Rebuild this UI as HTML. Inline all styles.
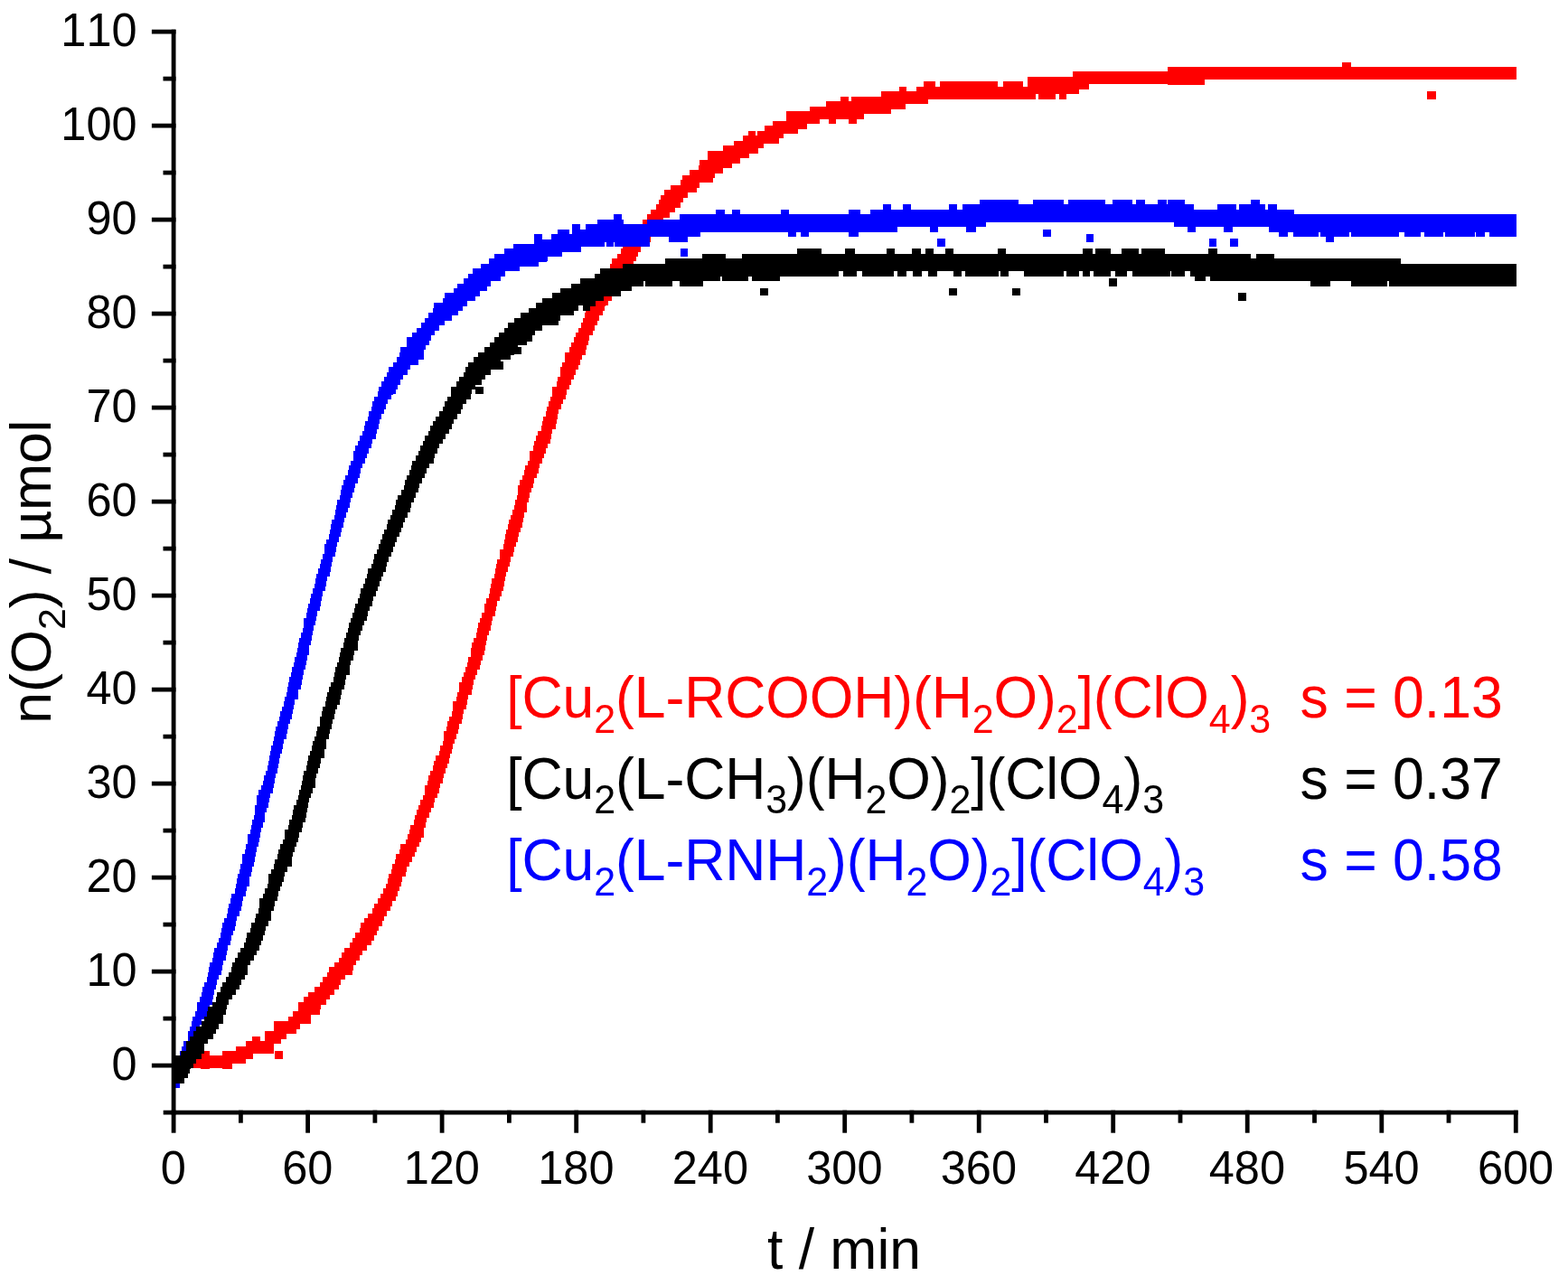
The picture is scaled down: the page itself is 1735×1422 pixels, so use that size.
<!DOCTYPE html>
<html lang="en">
<head>
<meta charset="utf-8">
<title>n(O2) / µmol vs t / min</title>
<style>
html,body{margin:0;padding:0;background:#fff;}
body{width:1735px;height:1422px;overflow:hidden;}
svg{display:block;}
svg text{font-family:"Liberation Sans",sans-serif;font-kerning:none;font-variant-ligatures:none;}
</style>
</head>
<body>
<svg width="1735" height="1422" viewBox="0 0 1735 1422">
<rect width="1735" height="1422" fill="#fff"/>
<defs><clipPath id="plot"><rect x="190" y="0" width="1500" height="1232"/></clipPath></defs>
<g>
<g shape-rendering="crispEdges" clip-path="url(#plot)">
<path fill="#ff0000" d="M333.8 1108.5h8.6v19.5h-8.6zM335.1 1108.5h8.6v24.9h-8.6zM336.3 1103.1h8.6v19.5h-8.6zM337.6 1103.1h8.6v19.5h-8.6zM338.8 1103.1h8.6v19.5h-8.6zM340 1103.1h8.6v19.5h-8.6zM341.3 1097.6h8.6v19.5h-8.6zM342.5 1103.1h8.6v19.5h-8.6zM343.7 1097.6h8.6v19.5h-8.6zM345 1097.6h8.6v24.9h-8.6zM346.2 1097.6h8.6v19.5h-8.6zM347.5 1092.2h8.6v19.5h-8.6zM348.7 1092.2h8.6v19.5h-8.6zM349.9 1092.2h8.6v19.5h-8.6zM351.2 1092.2h8.6v19.5h-8.6zM352.4 1092.2h8.6v19.5h-8.6zM353.6 1086.7h8.6v19.5h-8.6zM354.9 1086.7h8.6v19.5h-8.6zM356.1 1086.7h8.6v19.5h-8.6zM357.4 1081.3h8.6v19.5h-8.6zM358.6 1081.3h8.6v19.5h-8.6zM359.8 1081.3h8.6v19.5h-8.6zM361.1 1081.3h8.6v19.5h-8.6zM362.3 1075.8h8.6v19.5h-8.6zM363.5 1070.4h8.6v24.9h-8.6zM364.8 1075.8h8.6v19.5h-8.6zM366 1075.8h8.6v19.5h-8.6zM367.3 1070.4h8.6v19.5h-8.6zM368.5 1070.4h8.6v19.5h-8.6zM369.7 1064.9h8.6v19.5h-8.6zM371 1064.9h8.6v19.5h-8.6zM372.2 1064.9h8.6v19.5h-8.6zM373.4 1064.9h8.6v19.5h-8.6zM374.7 1059.5h8.6v19.5h-8.6zM375.9 1059.5h8.6v19.5h-8.6zM377.2 1059.5h8.6v19.5h-8.6zM378.4 1054.1h8.6v19.5h-8.6zM379.6 1054.1h8.6v24.9h-8.6zM380.9 1048.6h8.6v30.4h-8.6zM382.1 1048.6h8.6v24.9h-8.6zM383.3 1048.6h8.6v19.5h-8.6zM384.6 1048.6h8.6v19.5h-8.6zM385.8 1048.6h8.6v19.5h-8.6zM387.1 1043.2h8.6v19.5h-8.6zM388.3 1043.2h8.6v19.5h-8.6zM389.5 1037.7h8.6v24.9h-8.6zM390.8 1037.7h8.6v19.5h-8.6zM392 1037.7h8.6v19.5h-8.6zM393.2 1032.3h8.6v19.5h-8.6zM394.5 1032.3h8.6v19.5h-8.6zM395.7 1032.3h8.6v19.5h-8.6zM397 1032.3h8.6v19.5h-8.6zM398.2 1026.8h8.6v19.5h-8.6zM399.4 1021.4h8.6v24.9h-8.6zM400.7 1021.4h8.6v24.9h-8.6zM401.9 1021.4h8.6v24.9h-8.6zM403.2 1015.9h8.6v24.9h-8.6zM404.4 1015.9h8.6v24.9h-8.6zM405.6 1015.9h8.6v24.9h-8.6zM406.9 1010.5h8.6v24.9h-8.6zM408.1 1015.9h8.6v19.5h-8.6zM409.3 1010.5h8.6v19.5h-8.6zM410.6 1010.5h8.6v19.5h-8.6zM411.8 1005.1h8.6v19.5h-8.6zM413.1 1005.1h8.6v19.5h-8.6zM414.3 999.6h8.6v24.9h-8.6zM415.5 999.6h8.6v19.5h-8.6zM416.8 999.6h8.6v19.5h-8.6zM418 994.2h8.6v19.5h-8.6zM419.2 994.2h8.6v19.5h-8.6zM420.5 988.7h8.6v19.5h-8.6zM421.7 988.7h8.6v19.5h-8.6zM423 988.7h8.6v19.5h-8.6zM424.2 983.3h8.6v19.5h-8.6zM425.4 983.3h8.6v19.5h-8.6zM426.7 977.8h8.6v19.5h-8.6zM427.9 977.8h8.6v19.5h-8.6zM429.1 972.4h8.6v24.9h-8.6zM430.4 966.9h8.6v24.9h-8.6zM431.6 966.9h8.6v24.9h-8.6zM432.9 961.5h8.6v24.9h-8.6zM434.1 956h8.6v24.9h-8.6zM435.3 956h8.6v24.9h-8.6zM436.6 950.6h8.6v24.9h-8.6zM437.8 945.2h8.6v24.9h-8.6zM439 945.2h8.6v24.9h-8.6zM440.3 945.2h8.6v24.9h-8.6zM441.5 939.7h8.6v24.9h-8.6zM442.8 934.3h8.6v24.9h-8.6zM444 934.3h8.6v24.9h-8.6zM445.2 934.3h8.6v19.5h-8.6zM446.5 934.3h8.6v19.5h-8.6zM447.7 934.3h8.6v19.5h-8.6zM448.9 928.8h8.6v19.5h-8.6zM450.2 928.8h8.6v19.5h-8.6zM451.4 923.4h8.6v19.5h-8.6zM452.7 917.9h8.6v24.9h-8.6zM453.9 912.5h8.6v24.9h-8.6zM455.1 917.9h8.6v19.5h-8.6zM456.4 912.5h8.6v19.5h-8.6zM457.6 907h8.6v24.9h-8.6zM458.8 901.6h8.6v24.9h-8.6zM460.1 901.6h8.6v24.9h-8.6zM461.3 896.2h8.6v19.5h-8.6zM462.6 890.7h8.6v24.9h-8.6zM463.8 890.7h8.6v19.5h-8.6zM465 885.3h8.6v19.5h-8.6zM466.3 885.3h8.6v19.5h-8.6zM467.5 879.8h8.6v19.5h-8.6zM468.7 879.8h8.6v19.5h-8.6zM470 868.9h8.6v24.9h-8.6zM471.2 868.9h8.6v24.9h-8.6zM472.5 863.5h8.6v24.9h-8.6zM473.7 858h8.6v24.9h-8.6zM474.9 858h8.6v24.9h-8.6zM476.2 852.6h8.6v24.9h-8.6zM477.4 852.6h8.6v24.9h-8.6zM478.6 847.1h8.6v24.9h-8.6zM479.9 841.7h8.6v24.9h-8.6zM481.1 841.7h8.6v24.9h-8.6zM482.4 836.3h8.6v24.9h-8.6zM483.6 836.3h8.6v19.5h-8.6zM484.8 836.3h8.6v19.5h-8.6zM486.1 830.8h8.6v19.5h-8.6zM487.3 825.4h8.6v19.5h-8.6zM488.5 825.4h8.6v19.5h-8.6zM489.8 819.9h8.6v19.5h-8.6zM491 809h8.6v24.9h-8.6zM492.3 809h8.6v19.5h-8.6zM493.5 803.6h8.6v19.5h-8.6zM494.7 798.1h8.6v24.9h-8.6zM496 798.1h8.6v19.5h-8.6zM497.2 792.7h8.6v19.5h-8.6zM498.5 792.7h8.6v19.5h-8.6zM499.7 787.2h8.6v19.5h-8.6zM500.9 776.4h8.6v24.9h-8.6zM502.2 781.8h8.6v19.5h-8.6zM503.4 776.4h8.6v19.5h-8.6zM504.6 770.9h8.6v19.5h-8.6zM505.9 765.5h8.6v19.5h-8.6zM507.1 765.5h8.6v19.5h-8.6zM508.4 754.6h8.6v24.9h-8.6zM509.6 754.6h8.6v19.5h-8.6zM510.8 749.1h8.6v19.5h-8.6zM512.1 749.1h8.6v19.5h-8.6zM513.3 743.7h8.6v24.9h-8.6zM514.5 738.2h8.6v24.9h-8.6zM515.8 738.2h8.6v19.5h-8.6zM517 732.8h8.6v19.5h-8.6zM518.3 727.4h8.6v19.5h-8.6zM519.5 727.4h8.6v19.5h-8.6zM520.7 716.5h8.6v24.9h-8.6zM522 711h8.6v30.4h-8.6zM523.2 711h8.6v24.9h-8.6zM524.4 705.6h8.6v24.9h-8.6zM525.7 705.6h8.6v24.9h-8.6zM526.9 700.1h8.6v24.9h-8.6zM528.2 694.7h8.6v24.9h-8.6zM529.4 689.2h8.6v24.9h-8.6zM530.6 683.8h8.6v24.9h-8.6zM531.9 683.8h8.6v19.5h-8.6zM533.1 678.4h8.6v19.5h-8.6zM534.3 678.4h8.6v19.5h-8.6zM535.6 667.5h8.6v24.9h-8.6zM536.8 667.5h8.6v19.5h-8.6zM538.1 662h8.6v19.5h-8.6zM539.3 662h8.6v19.5h-8.6zM540.5 656.6h8.6v19.5h-8.6zM541.8 651.1h8.6v19.5h-8.6zM543 645.7h8.6v19.5h-8.6zM544.2 640.2h8.6v24.9h-8.6zM545.5 640.2h8.6v19.5h-8.6zM546.7 634.8h8.6v24.9h-8.6zM548 629.3h8.6v24.9h-8.6zM549.2 623.9h8.6v24.9h-8.6zM550.4 618.5h8.6v24.9h-8.6zM551.7 618.5h8.6v19.5h-8.6zM552.9 607.6h8.6v24.9h-8.6zM554.1 607.6h8.6v19.5h-8.6zM555.4 607.6h8.6v19.5h-8.6zM556.6 602.1h8.6v19.5h-8.6zM557.9 596.7h8.6v19.5h-8.6zM559.1 591.2h8.6v24.9h-8.6zM560.3 585.8h8.6v24.9h-8.6zM561.6 580.3h8.6v24.9h-8.6zM562.8 574.9h8.6v30.4h-8.6zM564 574.9h8.6v24.9h-8.6zM565.3 569.5h8.6v24.9h-8.6zM566.5 564h8.6v24.9h-8.6zM567.8 564h8.6v24.9h-8.6zM569 558.6h8.6v24.9h-8.6zM570.2 553.1h8.6v24.9h-8.6zM571.5 547.7h8.6v24.9h-8.6zM572.7 536.8h8.6v30.4h-8.6zM573.9 542.2h8.6v24.9h-8.6zM575.2 531.3h8.6v24.9h-8.6zM576.4 531.3h8.6v24.9h-8.6zM577.7 525.9h8.6v24.9h-8.6zM578.9 525.9h8.6v19.5h-8.6zM580.1 520.4h8.6v19.5h-8.6zM581.4 515h8.6v24.9h-8.6zM582.6 515h8.6v19.5h-8.6zM583.8 509.6h8.6v19.5h-8.6zM585.1 509.6h8.6v19.5h-8.6zM586.3 498.7h8.6v24.9h-8.6zM587.6 498.7h8.6v24.9h-8.6zM588.8 498.7h8.6v19.5h-8.6zM590 493.2h8.6v19.5h-8.6zM591.3 487.8h8.6v24.9h-8.6zM592.5 482.3h8.6v24.9h-8.6zM593.7 482.3h8.6v24.9h-8.6zM595 476.9h8.6v24.9h-8.6zM596.2 476.9h8.6v19.5h-8.6zM597.5 476.9h8.6v19.5h-8.6zM598.7 471.4h8.6v19.5h-8.6zM599.9 466h8.6v24.9h-8.6zM601.2 460.6h8.6v24.9h-8.6zM602.4 460.6h8.6v19.5h-8.6zM603.7 455.1h8.6v19.5h-8.6zM604.9 449.7h8.6v24.9h-8.6zM606.1 449.7h8.6v24.9h-8.6zM607.4 444.2h8.6v24.9h-8.6zM608.6 438.8h8.6v24.9h-8.6zM609.8 438.8h8.6v19.5h-8.6zM611.1 427.9h8.6v24.9h-8.6zM612.3 433.3h8.6v19.5h-8.6zM613.6 427.9h8.6v19.5h-8.6zM614.8 427.9h8.6v19.5h-8.6zM616 422.4h8.6v19.5h-8.6zM617.3 417h8.6v24.9h-8.6zM618.5 417h8.6v19.5h-8.6zM619.7 406.1h8.6v24.9h-8.6zM621 406.1h8.6v24.9h-8.6zM622.2 400.7h8.6v24.9h-8.6zM623.5 400.7h8.6v24.9h-8.6zM624.7 389.8h8.6v30.4h-8.6zM625.9 395.2h8.6v24.9h-8.6zM627.2 389.8h8.6v24.9h-8.6zM628.4 389.8h8.6v24.9h-8.6zM629.6 384.3h8.6v24.9h-8.6zM630.9 384.3h8.6v24.9h-8.6zM632.1 378.9h8.6v24.9h-8.6zM633.4 378.9h8.6v24.9h-8.6zM634.6 373.4h8.6v24.9h-8.6zM635.8 373.4h8.6v24.9h-8.6zM637.1 368h8.6v24.9h-8.6zM638.3 368h8.6v24.9h-8.6zM639.5 362.5h8.6v30.4h-8.6zM640.8 362.5h8.6v24.9h-8.6zM642 362.5h8.6v19.5h-8.6zM643.3 357.1h8.6v19.5h-8.6zM644.5 351.7h8.6v19.5h-8.6zM645.7 351.7h8.6v19.5h-8.6zM647 346.2h8.6v24.9h-8.6zM648.2 340.8h8.6v24.9h-8.6zM649.4 340.8h8.6v24.9h-8.6zM650.7 335.3h8.6v24.9h-8.6zM651.9 340.8h8.6v19.5h-8.6zM653.2 335.3h8.6v19.5h-8.6zM654.4 329.9h8.6v24.9h-8.6zM655.6 324.4h8.6v24.9h-8.6zM656.9 324.4h8.6v24.9h-8.6zM658.1 324.4h8.6v24.9h-8.6zM659.3 319h8.6v24.9h-8.6zM660.6 319h8.6v24.9h-8.6zM661.8 308.1h8.6v30.4h-8.6zM663.1 313.5h8.6v24.9h-8.6zM664.3 313.5h8.6v24.9h-8.6zM665.5 308.1h8.6v24.9h-8.6zM666.8 308.1h8.6v24.9h-8.6zM668 308.1h8.6v24.9h-8.6zM669.2 302.6h8.6v24.9h-8.6zM670.5 302.6h8.6v24.9h-8.6zM671.7 297.2h8.6v24.9h-8.6zM673 297.2h8.6v24.9h-8.6zM674.2 297.2h8.6v24.9h-8.6zM675.4 291.8h8.6v24.9h-8.6zM676.7 286.3h8.6v30.4h-8.6zM677.9 291.8h8.6v24.9h-8.6zM679.1 291.8h8.6v19.5h-8.6zM680.4 286.3h8.6v24.9h-8.6zM681.6 286.3h8.6v19.5h-8.6zM682.9 280.9h8.6v24.9h-8.6zM684.1 280.9h8.6v24.9h-8.6zM685.3 280.9h8.6v24.9h-8.6zM686.6 275.4h8.6v24.9h-8.6zM687.8 275.4h8.6v19.5h-8.6zM689 270h8.6v24.9h-8.6zM690.3 270h8.6v24.9h-8.6zM691.5 264.5h8.6v30.4h-8.6zM692.8 264.5h8.6v30.4h-8.6zM694 264.5h8.6v24.9h-8.6zM695.2 264.5h8.6v24.9h-8.6zM696.5 259.1h8.6v24.9h-8.6zM697.7 259.1h8.6v24.9h-8.6zM698.9 259.1h8.6v19.5h-8.6zM700.2 259.1h8.6v19.5h-8.6zM701.4 253.6h8.6v19.5h-8.6zM702.7 253.6h8.6v19.5h-8.6zM703.9 253.6h8.6v19.5h-8.6zM705.1 253.6h8.6v19.5h-8.6zM706.4 248.2h8.6v19.5h-8.6zM707.6 248.2h8.6v19.5h-8.6zM708.9 248.2h8.6v19.5h-8.6zM710.1 248.2h8.6v19.5h-8.6zM711.3 242.8h8.6v24.9h-8.6zM712.6 242.8h8.6v19.5h-8.6zM713.8 242.8h8.6v19.5h-8.6zM715 242.8h8.6v19.5h-8.6zM716.3 237.3h8.6v19.5h-8.6zM717.5 237.3h8.6v19.5h-8.6zM718.8 237.3h8.6v19.5h-8.6zM720 231.9h8.6v19.5h-8.6zM721.2 231.9h8.6v19.5h-8.6zM722.5 231.9h8.6v19.5h-8.6zM723.7 231.9h8.6v14h-8.6zM724.9 231.9h8.6v14h-8.6zM726.2 226.4h8.6v14h-8.6zM727.4 226.4h8.6v14h-8.6zM728.7 221h8.6v19.5h-8.6zM729.9 221h8.6v19.5h-8.6zM731.1 215.5h8.6v24.9h-8.6zM732.4 221h8.6v19.5h-8.6zM733.6 215.5h8.6v19.5h-8.6zM734.8 210.1h8.6v24.9h-8.6zM736.1 215.5h8.6v19.5h-8.6zM737.3 215.5h8.6v19.5h-8.6zM738.6 215.5h8.6v19.5h-8.6zM739.8 210.1h8.6v19.5h-8.6zM741 210.1h8.6v19.5h-8.6zM742.3 204.6h8.6v24.9h-8.6zM743.5 210.1h8.6v19.5h-8.6zM744.7 210.1h8.6v19.5h-8.6zM746 204.6h8.6v19.5h-8.6zM747.2 204.6h8.6v19.5h-8.6zM748.5 204.6h8.6v14h-8.6zM749.7 204.6h8.6v14h-8.6zM750.9 204.6h8.6v14h-8.6zM752.2 204.6h8.6v14h-8.6zM753.4 199.2h8.6v14h-8.6zM754.6 193.7h8.6v19.5h-8.6zM755.9 199.2h8.6v14h-8.6zM757.1 199.2h8.6v14h-8.6zM758.4 193.7h8.6v19.5h-8.6zM759.6 193.7h8.6v19.5h-8.6zM760.8 193.7h8.6v19.5h-8.6zM762.1 193.7h8.6v19.5h-8.6zM763.3 188.3h8.6v19.5h-8.6zM764.5 188.3h8.6v14h-8.6zM765.8 193.7h8.6v14h-8.6zM767 188.3h8.6v14h-8.6zM768.3 188.3h8.6v14h-8.6zM769.5 188.3h8.6v14h-8.6zM770.7 188.3h8.6v14h-8.6zM772 188.3h8.6v14h-8.6zM773.2 182.9h8.6v14h-8.6zM774.4 177.4h8.6v19.5h-8.6zM775.7 182.9h8.6v14h-8.6zM776.9 177.4h8.6v19.5h-8.6zM778.2 177.4h8.6v24.9h-8.6zM779.4 177.4h8.6v19.5h-8.6zM780.6 177.4h8.6v24.9h-8.6zM781.9 177.4h8.6v19.5h-8.6zM783.1 166.5h8.6v24.9h-8.6zM784.3 172h8.6v19.5h-8.6zM785.6 172h8.6v19.5h-8.6zM786.8 172h8.6v19.5h-8.6zM788.1 166.5h8.6v24.9h-8.6zM789.3 172h8.6v19.5h-8.6zM790.5 166.5h8.6v19.5h-8.6zM791.8 172h8.6v19.5h-8.6zM793 166.5h8.6v19.5h-8.6zM794.2 166.5h8.6v19.5h-8.6zM795.5 166.5h8.6v14h-8.6zM796.7 166.5h8.6v19.5h-8.6zM798 166.5h8.6v19.5h-8.6zM799.2 166.5h8.6v19.5h-8.6zM800.4 161.1h8.6v19.5h-8.6zM801.7 166.5h8.6v19.5h-8.6zM802.9 166.5h8.6v14h-8.6zM804.1 161.1h8.6v14h-8.6zM805.4 166.5h8.6v14h-8.6zM806.6 161.1h8.6v14h-8.6zM807.9 161.1h8.6v14h-8.6zM809.1 161.1h8.6v19.5h-8.6zM810.3 161.1h8.6v19.5h-8.6zM811.6 155.6h8.6v19.5h-8.6zM812.8 155.6h8.6v19.5h-8.6zM814.1 155.6h8.6v19.5h-8.6zM815.3 155.6h8.6v19.5h-8.6zM816.5 155.6h8.6v19.5h-8.6zM817.8 155.6h8.6v19.5h-8.6zM819 155.6h8.6v19.5h-8.6zM820.2 155.6h8.6v19.5h-8.6zM821.5 150.2h8.6v19.5h-8.6zM822.7 155.6h8.6v14h-8.6zM824 155.6h8.6v14h-8.6zM825.2 155.6h8.6v14h-8.6zM826.4 150.2h8.6v14h-8.6zM827.7 144.7h8.6v24.9h-8.6zM828.9 150.2h8.6v19.5h-8.6zM830.1 150.2h8.6v19.5h-8.6zM831.4 150.2h8.6v14h-8.6zM832.6 150.2h8.6v14h-8.6zM833.9 150.2h8.6v14h-8.6zM835.1 150.2h8.6v14h-8.6zM836.3 150.2h8.6v14h-8.6zM837.6 144.7h8.6v14h-8.6zM838.8 144.7h8.6v14h-8.6zM840 144.7h8.6v14h-8.6zM841.3 144.7h8.6v14h-8.6zM842.5 144.7h8.6v14h-8.6zM843.8 144.7h8.6v14h-8.6zM845 144.7h8.6v14h-8.6zM846.2 139.3h8.6v14h-8.6zM847.5 144.7h8.6v14h-8.6zM848.7 139.3h8.6v14h-8.6zM849.9 139.3h8.6v14h-8.6zM851.2 139.3h8.6v14h-8.6zM852.4 139.3h8.6v14h-8.6zM853.7 139.3h8.6v19.5h-8.6zM854.9 133.9h8.6v19.5h-8.6zM856.1 139.3h8.6v14h-8.6zM857.4 133.9h8.6v14h-8.6zM858.6 139.3h8.6v14h-8.6zM859.8 133.9h8.6v14h-8.6zM861.1 133.9h8.6v14h-8.6zM862.3 133.9h8.6v14h-8.6zM863.6 133.9h8.6v14h-8.6zM864.8 133.9h8.6v14h-8.6zM866 133.9h8.6v14h-8.6zM867.3 133.9h8.6v14h-8.6zM868.5 133.9h8.6v14h-8.6zM869.7 123h8.6v19.5h-8.6zM871 128.4h8.6v14h-8.6zM872.2 128.4h8.6v14h-8.6zM873.5 128.4h8.6v14h-8.6zM874.7 128.4h8.6v19.5h-8.6zM875.9 128.4h8.6v14h-8.6zM877.2 123h8.6v19.5h-8.6zM878.4 128.4h8.6v14h-8.6zM879.6 123h8.6v19.5h-8.6zM880.9 123h8.6v19.5h-8.6zM882.1 123h8.6v19.5h-8.6zM883.4 123h8.6v19.5h-8.6zM884.6 123h8.6v19.5h-8.6zM885.8 123h8.6v14h-8.6zM887.1 123h8.6v14h-8.6zM888.3 123h8.6v14h-8.6zM889.5 123h8.6v14h-8.6zM890.8 123h8.6v14h-8.6zM892 123h8.6v14h-8.6zM893.3 123h8.6v14h-8.6zM894.5 123h8.6v14h-8.6zM895.7 117.5h8.6v14h-8.6zM897 117.5h8.6v14h-8.6zM898.2 123h8.6v14h-8.6zM899.4 117.5h8.6v14h-8.6zM900.7 117.5h8.6v14h-8.6zM901.9 117.5h8.6v14h-8.6zM903.2 117.5h8.6v14h-8.6zM904.4 117.5h8.6v14h-8.6zM905.6 117.5h8.6v14h-8.6zM906.9 117.5h8.6v14h-8.6zM908.1 117.5h8.6v14h-8.6zM909.3 117.5h8.6v14h-8.6zM910.6 117.5h8.6v14h-8.6zM911.8 117.5h8.6v14h-8.6zM913.1 117.5h8.6v14h-8.6zM914.3 112.1h8.6v19.5h-8.6zM915.5 112.1h8.6v19.5h-8.6zM916.8 117.5h8.6v19.5h-8.6zM918 112.1h8.6v19.5h-8.6zM919.3 112.1h8.6v19.5h-8.6zM920.5 112.1h8.6v19.5h-8.6zM921.7 112.1h8.6v19.5h-8.6zM923 112.1h8.6v19.5h-8.6zM924.2 112.1h8.6v19.5h-8.6zM925.4 112.1h8.6v19.5h-8.6zM926.7 112.1h8.6v19.5h-8.6zM927.9 112.1h8.6v19.5h-8.6zM929.2 112.1h8.6v19.5h-8.6zM930.4 106.6h8.6v24.9h-8.6zM931.6 112.1h8.6v19.5h-8.6zM932.9 112.1h8.6v19.5h-8.6zM934.1 112.1h8.6v14h-8.6zM935.3 112.1h8.6v19.5h-8.6zM936.6 112.1h8.6v19.5h-8.6zM937.8 112.1h8.6v19.5h-8.6zM939.1 112.1h8.6v24.9h-8.6zM940.3 112.1h8.6v19.5h-8.6zM941.5 106.6h8.6v19.5h-8.6zM942.8 112.1h8.6v19.5h-8.6zM944 112.1h8.6v19.5h-8.6zM945.2 112.1h8.6v19.5h-8.6zM946.5 112.1h8.6v19.5h-8.6zM947.7 106.6h8.6v24.9h-8.6zM949 106.6h8.6v19.5h-8.6zM950.2 106.6h8.6v19.5h-8.6zM951.4 106.6h8.6v19.5h-8.6zM952.7 106.6h8.6v19.5h-8.6zM953.9 106.6h8.6v19.5h-8.6zM955.1 106.6h8.6v19.5h-8.6zM956.4 106.6h8.6v19.5h-8.6zM957.6 106.6h8.6v19.5h-8.6zM958.9 106.6h8.6v19.5h-8.6zM960.1 106.6h8.6v19.5h-8.6zM961.3 106.6h8.6v19.5h-8.6zM962.6 106.6h8.6v19.5h-8.6zM963.8 106.6h8.6v19.5h-8.6zM965 106.6h8.6v19.5h-8.6zM966.3 106.6h8.6v19.5h-8.6zM967.5 106.6h8.6v19.5h-8.6zM968.8 106.6h8.6v19.5h-8.6zM970 106.6h8.6v14h-8.6zM971.2 106.6h8.6v14h-8.6zM972.5 106.6h8.6v14h-8.6zM973.7 106.6h8.6v19.5h-8.6zM974.9 101.2h8.6v19.5h-8.6zM976.2 101.2h8.6v19.5h-8.6zM977.4 106.6h8.6v19.5h-8.6zM978.7 101.2h8.6v19.5h-8.6zM979.9 101.2h8.6v19.5h-8.6zM981.1 101.2h8.6v19.5h-8.6zM982.4 101.2h8.6v19.5h-8.6zM983.6 106.6h8.6v14h-8.6zM984.8 106.6h8.6v14h-8.6zM986.1 101.2h8.6v19.5h-8.6zM987.3 101.2h8.6v19.5h-8.6zM988.6 101.2h8.6v19.5h-8.6zM989.8 101.2h8.6v19.5h-8.6zM991 101.2h8.6v19.5h-8.6zM992.3 101.2h8.6v19.5h-8.6zM993.5 101.2h8.6v19.5h-8.6zM994.7 95.7h8.6v19.5h-8.6zM207.7 1168.4h15.1v14h-15.1zM222.4 1163h9.5v19.5h-9.5zM231.6 1168.4h14.6v14h-14.6zM245.9 1163h11.4v19.5h-11.4zM257 1163h4v14h-4zM260.7 1157.5h10.9v19.5h-10.9zM271.3 1157.5h0.8v14h-0.8zM271.8 1152.1h7.7v19.5h-7.7zM279.1 1146.6h9.1v19.5h-9.1zM287.9 1152.1h5.8v14h-5.8zM293.4 1141.2h9.5v24.9h-9.5zM302.7 1130.3h8.6v24.9h-8.6zM311 1130.3h6.3v19.5h-6.3zM316.9 1130.3h2.1v14h-2.1zM318.8 1124.8h5.8v19.5h-5.8zM324.3 1119.4h4v24.9h-4zM328 1119.4h2.1v19.5h-2.1zM329.9 1108.5h1.7v30.4h-1.7zM331.2 1108.5h4v24.9h-4zM334.9 1108.5h5.4v19.5h-5.4zM1000 101.2h14.1v14h-14.1zM1013.8 95.7h8.4v19.5h-8.4zM1021.9 90.3h4.9v24.9h-4.9zM1026.5 90.3h8.4v19.5h-8.4zM1034.6 95.7h6.1v14h-6.1zM1040.4 90.3h63.7v19.5h-63.7zM1103.8 95.7h6.1v14h-6.1zM1109.6 90.3h22.2v19.5h-22.2zM1131.5 95.7h6.1v14h-6.1zM1137.3 84.8h8.4v24.9h-8.4zM1145.3 84.8h3.8v19.5h-3.8zM1148.8 84.8h18.8v24.9h-18.8zM1167.2 84.8h4.9v19.5h-4.9zM1171.9 84.8h8.4v24.9h-8.4zM1179.9 84.8h7.2v19.5h-7.2zM1186.9 79.4h7.2v24.9h-7.2zM1193.8 79.4h10.7v19.5h-10.7zM1204.2 79.4h88v14h-88zM1291.8 74h40.7v19.5h-40.7zM1332.2 74h68.1v14h-68.1zM1400 74h85.2v14h-85.2zM1484.9 68.5h10v19.5h-10zM1494.6 74h183.7v14h-183.7zM1578.7 101.1h8.6v8.6h-8.6zM1580.5 101.1h8.6v8.6h-8.6zM304.1 1163.3h8.6v8.6h-8.6z"/>
<path fill="#0000ff" d="M218.7 1108.5h8.6v19.5h-8.6zM220 1108.5h8.6v19.5h-8.6zM221.2 1103.1h8.6v19.5h-8.6zM222.5 1097.6h8.6v19.5h-8.6zM223.7 1092.2h8.6v24.9h-8.6zM224.9 1092.2h8.6v19.5h-8.6zM226.2 1086.7h8.6v24.9h-8.6zM227.4 1086.7h8.6v19.5h-8.6zM228.6 1081.3h8.6v19.5h-8.6zM229.9 1075.8h8.6v19.5h-8.6zM231.1 1070.4h8.6v19.5h-8.6zM232.4 1064.9h8.6v19.5h-8.6zM233.6 1064.9h8.6v19.5h-8.6zM234.8 1059.5h8.6v19.5h-8.6zM236.1 1054.1h8.6v24.9h-8.6zM237.3 1048.6h8.6v24.9h-8.6zM238.5 1048.6h8.6v19.5h-8.6zM239.8 1043.2h8.6v19.5h-8.6zM241 1043.2h8.6v19.5h-8.6zM242.3 1037.7h8.6v19.5h-8.6zM243.5 1032.3h8.6v19.5h-8.6zM244.7 1026.8h8.6v19.5h-8.6zM246 1021.4h8.6v24.9h-8.6zM247.2 1021.4h8.6v19.5h-8.6zM248.4 1015.9h8.6v19.5h-8.6zM249.7 1015.9h8.6v19.5h-8.6zM250.9 1010.5h8.6v19.5h-8.6zM252.2 1005.1h8.6v19.5h-8.6zM253.4 999.6h8.6v19.5h-8.6zM254.6 994.2h8.6v19.5h-8.6zM255.9 988.7h8.6v24.9h-8.6zM257.1 988.7h8.6v19.5h-8.6zM258.3 988.7h8.6v19.5h-8.6zM259.6 983.3h8.6v19.5h-8.6zM260.8 977.8h8.6v19.5h-8.6zM262.1 972.4h8.6v19.5h-8.6zM263.3 966.9h8.6v24.9h-8.6zM264.5 961.5h8.6v24.9h-8.6zM265.8 956h8.6v24.9h-8.6zM267 956h8.6v24.9h-8.6zM268.2 945.2h8.6v24.9h-8.6zM269.5 945.2h8.6v24.9h-8.6zM270.7 939.7h8.6v24.9h-8.6zM272 934.3h8.6v24.9h-8.6zM273.2 934.3h8.6v19.5h-8.6zM274.4 923.4h8.6v24.9h-8.6zM275.7 923.4h8.6v19.5h-8.6zM276.9 917.9h8.6v19.5h-8.6zM278.1 912.5h8.6v19.5h-8.6zM279.4 907h8.6v19.5h-8.6zM280.6 901.6h8.6v19.5h-8.6zM281.9 890.7h8.6v24.9h-8.6zM283.1 890.7h8.6v19.5h-8.6zM284.3 879.8h8.6v30.4h-8.6zM285.6 874.4h8.6v24.9h-8.6zM286.8 879.8h8.6v19.5h-8.6zM288 874.4h8.6v19.5h-8.6zM289.3 868.9h8.6v19.5h-8.6zM290.5 863.5h8.6v19.5h-8.6zM291.8 858h8.6v19.5h-8.6zM293 858h8.6v19.5h-8.6zM294.2 852.6h8.6v19.5h-8.6zM295.5 847.1h8.6v19.5h-8.6zM296.7 841.7h8.6v19.5h-8.6zM298 836.3h8.6v19.5h-8.6zM299.2 830.8h8.6v19.5h-8.6zM300.4 825.4h8.6v19.5h-8.6zM301.7 819.9h8.6v19.5h-8.6zM302.9 814.5h8.6v19.5h-8.6zM304.1 809h8.6v19.5h-8.6zM305.4 803.6h8.6v19.5h-8.6zM306.6 798.1h8.6v19.5h-8.6zM307.9 798.1h8.6v19.5h-8.6zM309.1 792.7h8.6v19.5h-8.6zM310.3 787.2h8.6v19.5h-8.6zM311.6 781.8h8.6v19.5h-8.6zM312.8 781.8h8.6v19.5h-8.6zM314 776.4h8.6v19.5h-8.6zM315.3 770.9h8.6v19.5h-8.6zM316.5 765.5h8.6v19.5h-8.6zM317.8 760h8.6v19.5h-8.6zM319 754.6h8.6v19.5h-8.6zM320.2 749.1h8.6v24.9h-8.6zM321.5 743.7h8.6v30.4h-8.6zM322.7 738.2h8.6v24.9h-8.6zM323.9 738.2h8.6v24.9h-8.6zM325.2 732.8h8.6v24.9h-8.6zM326.4 727.4h8.6v24.9h-8.6zM327.7 721.9h8.6v24.9h-8.6zM328.9 716.5h8.6v24.9h-8.6zM330.1 711h8.6v24.9h-8.6zM331.4 705.6h8.6v24.9h-8.6zM332.6 700.1h8.6v24.9h-8.6zM333.8 700.1h8.6v24.9h-8.6zM335.1 694.7h8.6v19.5h-8.6zM336.3 683.8h8.6v24.9h-8.6zM337.6 683.8h8.6v19.5h-8.6zM338.8 678.4h8.6v19.5h-8.6zM340 672.9h8.6v19.5h-8.6zM341.3 667.5h8.6v19.5h-8.6zM342.5 662h8.6v19.5h-8.6zM343.7 656.6h8.6v19.5h-8.6zM345 656.6h8.6v19.5h-8.6zM346.2 651.1h8.6v19.5h-8.6zM347.5 645.7h8.6v19.5h-8.6zM348.7 640.2h8.6v19.5h-8.6zM349.9 634.8h8.6v19.5h-8.6zM351.2 634.8h8.6v19.5h-8.6zM352.4 629.3h8.6v19.5h-8.6zM353.6 623.9h8.6v19.5h-8.6zM354.9 618.5h8.6v19.5h-8.6zM356.1 618.5h8.6v19.5h-8.6zM357.4 613h8.6v19.5h-8.6zM358.6 602.1h8.6v24.9h-8.6zM359.8 602.1h8.6v19.5h-8.6zM361.1 596.7h8.6v19.5h-8.6zM362.3 596.7h8.6v19.5h-8.6zM363.5 591.2h8.6v19.5h-8.6zM364.8 585.8h8.6v19.5h-8.6zM366 580.3h8.6v19.5h-8.6zM367.3 574.9h8.6v19.5h-8.6zM368.5 574.9h8.6v19.5h-8.6zM369.7 569.5h8.6v19.5h-8.6zM371 564h8.6v19.5h-8.6zM372.2 558.6h8.6v19.5h-8.6zM373.4 553.1h8.6v19.5h-8.6zM374.7 553.1h8.6v19.5h-8.6zM375.9 547.7h8.6v19.5h-8.6zM377.2 542.2h8.6v19.5h-8.6zM378.4 536.8h8.6v24.9h-8.6zM379.6 531.3h8.6v24.9h-8.6zM380.9 531.3h8.6v19.5h-8.6zM382.1 525.9h8.6v19.5h-8.6zM383.3 525.9h8.6v19.5h-8.6zM384.6 520.4h8.6v19.5h-8.6zM385.8 515h8.6v19.5h-8.6zM387.1 515h8.6v19.5h-8.6zM388.3 509.6h8.6v19.5h-8.6zM389.5 509.6h8.6v19.5h-8.6zM390.8 498.7h8.6v24.9h-8.6zM392 498.7h8.6v19.5h-8.6zM393.2 493.2h8.6v19.5h-8.6zM394.5 493.2h8.6v19.5h-8.6zM395.7 487.8h8.6v24.9h-8.6zM397 487.8h8.6v19.5h-8.6zM398.2 482.3h8.6v19.5h-8.6zM399.4 482.3h8.6v19.5h-8.6zM400.7 476.9h8.6v19.5h-8.6zM401.9 476.9h8.6v19.5h-8.6zM403.2 471.4h8.6v19.5h-8.6zM404.4 466h8.6v19.5h-8.6zM405.6 466h8.6v19.5h-8.6zM406.9 460.6h8.6v24.9h-8.6zM408.1 455.1h8.6v24.9h-8.6zM409.3 455.1h8.6v19.5h-8.6zM410.6 449.7h8.6v24.9h-8.6zM411.8 444.2h8.6v24.9h-8.6zM413.1 444.2h8.6v19.5h-8.6zM414.3 438.8h8.6v19.5h-8.6zM415.5 438.8h8.6v19.5h-8.6zM416.8 438.8h8.6v19.5h-8.6zM418 433.3h8.6v19.5h-8.6zM419.2 427.9h8.6v19.5h-8.6zM420.5 427.9h8.6v19.5h-8.6zM421.7 422.4h8.6v19.5h-8.6zM423 422.4h8.6v19.5h-8.6zM424.2 422.4h8.6v19.5h-8.6zM425.4 417h8.6v19.5h-8.6zM426.7 417h8.6v19.5h-8.6zM427.9 411.5h8.6v19.5h-8.6zM429.1 411.5h8.6v24.9h-8.6zM430.4 406.1h8.6v24.9h-8.6zM431.6 406.1h8.6v24.9h-8.6zM432.9 406.1h8.6v19.5h-8.6zM434.1 406.1h8.6v19.5h-8.6zM435.3 400.7h8.6v19.5h-8.6zM436.6 400.7h8.6v19.5h-8.6zM437.8 400.7h8.6v19.5h-8.6zM439 395.2h8.6v19.5h-8.6zM440.3 395.2h8.6v19.5h-8.6zM441.5 389.8h8.6v24.9h-8.6zM442.8 384.3h8.6v30.4h-8.6zM444 384.3h8.6v24.9h-8.6zM445.2 389.8h8.6v19.5h-8.6zM446.5 384.3h8.6v19.5h-8.6zM447.7 384.3h8.6v19.5h-8.6zM448.9 384.3h8.6v19.5h-8.6zM450.2 373.4h8.6v24.9h-8.6zM451.4 373.4h8.6v24.9h-8.6zM452.7 378.9h8.6v24.9h-8.6zM453.9 373.4h8.6v30.4h-8.6zM455.1 373.4h8.6v24.9h-8.6zM456.4 368h8.6v30.4h-8.6zM457.6 368h8.6v24.9h-8.6zM458.8 368h8.6v24.9h-8.6zM460.1 368h8.6v30.4h-8.6zM461.3 362.5h8.6v24.9h-8.6zM462.6 362.5h8.6v24.9h-8.6zM463.8 362.5h8.6v19.5h-8.6zM465 362.5h8.6v19.5h-8.6zM466.3 357.1h8.6v24.9h-8.6zM467.5 357.1h8.6v19.5h-8.6zM468.7 357.1h8.6v19.5h-8.6zM470 351.7h8.6v19.5h-8.6zM471.2 351.7h8.6v19.5h-8.6zM472.5 351.7h8.6v19.5h-8.6zM473.7 346.2h8.6v19.5h-8.6zM474.9 346.2h8.6v19.5h-8.6zM476.2 346.2h8.6v19.5h-8.6zM477.4 346.2h8.6v19.5h-8.6zM478.6 340.8h8.6v19.5h-8.6zM479.9 335.3h8.6v24.9h-8.6zM481.1 335.3h8.6v24.9h-8.6zM482.4 335.3h8.6v24.9h-8.6zM483.6 335.3h8.6v24.9h-8.6zM484.8 335.3h8.6v19.5h-8.6zM486.1 335.3h8.6v19.5h-8.6zM487.3 335.3h8.6v19.5h-8.6zM488.5 335.3h8.6v19.5h-8.6zM489.8 329.9h8.6v19.5h-8.6zM491 329.9h8.6v24.9h-8.6zM492.3 324.4h8.6v24.9h-8.6zM493.5 324.4h8.6v24.9h-8.6zM494.7 324.4h8.6v24.9h-8.6zM496 324.4h8.6v24.9h-8.6zM497.2 324.4h8.6v24.9h-8.6zM498.5 324.4h8.6v24.9h-8.6zM499.7 324.4h8.6v19.5h-8.6zM500.9 324.4h8.6v19.5h-8.6zM502.2 319h8.6v19.5h-8.6zM503.4 319h8.6v24.9h-8.6zM504.6 319h8.6v19.5h-8.6zM505.9 313.5h8.6v24.9h-8.6zM507.1 313.5h8.6v19.5h-8.6zM508.4 319h8.6v19.5h-8.6zM509.6 313.5h8.6v19.5h-8.6zM510.8 313.5h8.6v19.5h-8.6zM512.1 313.5h8.6v19.5h-8.6zM513.3 308.1h8.6v19.5h-8.6zM514.5 308.1h8.6v19.5h-8.6zM515.8 308.1h8.6v24.9h-8.6zM517 308.1h8.6v24.9h-8.6zM518.3 302.6h8.6v24.9h-8.6zM519.5 302.6h8.6v24.9h-8.6zM520.7 302.6h8.6v24.9h-8.6zM522 302.6h8.6v24.9h-8.6zM523.2 297.2h8.6v24.9h-8.6zM524.4 297.2h8.6v24.9h-8.6zM525.7 302.6h8.6v19.5h-8.6zM526.9 297.2h8.6v19.5h-8.6zM528.2 297.2h8.6v19.5h-8.6zM529.4 297.2h8.6v19.5h-8.6zM530.6 297.2h8.6v24.9h-8.6zM531.9 291.8h8.6v19.5h-8.6zM533.1 291.8h8.6v19.5h-8.6zM534.3 291.8h8.6v24.9h-8.6zM535.6 291.8h8.6v19.5h-8.6zM536.8 291.8h8.6v19.5h-8.6zM538.1 291.8h8.6v19.5h-8.6zM539.3 291.8h8.6v19.5h-8.6zM540.5 286.3h8.6v19.5h-8.6zM541.8 291.8h8.6v19.5h-8.6zM543 286.3h8.6v19.5h-8.6zM544.2 286.3h8.6v19.5h-8.6zM545.5 286.3h8.6v24.9h-8.6zM546.7 280.9h8.6v24.9h-8.6zM548 280.9h8.6v24.9h-8.6zM549.2 286.3h8.6v19.5h-8.6zM550.4 286.3h8.6v19.5h-8.6zM551.7 280.9h8.6v19.5h-8.6zM552.9 280.9h8.6v19.5h-8.6zM554.1 280.9h8.6v19.5h-8.6zM555.4 280.9h8.6v19.5h-8.6zM556.6 280.9h8.6v19.5h-8.6zM557.9 275.4h8.6v24.9h-8.6zM559.1 280.9h8.6v19.5h-8.6zM560.3 275.4h8.6v19.5h-8.6zM561.6 280.9h8.6v19.5h-8.6zM562.8 275.4h8.6v19.5h-8.6zM564 280.9h8.6v19.5h-8.6zM565.3 275.4h8.6v24.9h-8.6zM566.5 275.4h8.6v24.9h-8.6zM567.8 270h8.6v24.9h-8.6zM569 270h8.6v24.9h-8.6zM570.2 270h8.6v24.9h-8.6zM571.5 275.4h8.6v19.5h-8.6zM572.7 270h8.6v24.9h-8.6zM573.9 270h8.6v24.9h-8.6zM575.2 270h8.6v24.9h-8.6zM576.4 270h8.6v19.5h-8.6zM577.7 270h8.6v19.5h-8.6zM578.9 275.4h8.6v19.5h-8.6zM580.1 270h8.6v19.5h-8.6zM581.4 270h8.6v19.5h-8.6zM582.6 270h8.6v19.5h-8.6zM583.8 270h8.6v19.5h-8.6zM585.1 270h8.6v19.5h-8.6zM586.3 270h8.6v19.5h-8.6zM587.6 270h8.6v24.9h-8.6zM588.8 270h8.6v19.5h-8.6zM590 270h8.6v19.5h-8.6zM591.3 259.1h8.6v24.9h-8.6zM592.5 270h8.6v19.5h-8.6zM593.7 264.5h8.6v19.5h-8.6zM595 264.5h8.6v19.5h-8.6zM596.2 270h8.6v19.5h-8.6zM597.5 264.5h8.6v24.9h-8.6zM598.7 264.5h8.6v19.5h-8.6zM599.9 264.5h8.6v19.5h-8.6zM601.2 264.5h8.6v19.5h-8.6zM602.4 264.5h8.6v19.5h-8.6zM603.7 264.5h8.6v19.5h-8.6zM604.9 264.5h8.6v19.5h-8.6zM606.1 264.5h8.6v19.5h-8.6zM607.4 264.5h8.6v19.5h-8.6zM608.6 264.5h8.6v19.5h-8.6zM609.8 259.1h8.6v24.9h-8.6zM611.1 259.1h8.6v24.9h-8.6zM612.3 259.1h8.6v24.9h-8.6zM613.6 259.1h8.6v24.9h-8.6zM614.8 259.1h8.6v19.5h-8.6zM616 259.1h8.6v19.5h-8.6zM617.3 253.6h8.6v24.9h-8.6zM618.5 259.1h8.6v19.5h-8.6zM619.7 259.1h8.6v19.5h-8.6zM621 253.6h8.6v24.9h-8.6zM622.2 259.1h8.6v19.5h-8.6zM623.5 259.1h8.6v19.5h-8.6zM624.7 259.1h8.6v19.5h-8.6zM625.9 259.1h8.6v19.5h-8.6zM627.2 259.1h8.6v19.5h-8.6zM628.4 259.1h8.6v19.5h-8.6zM629.6 259.1h8.6v19.5h-8.6zM630.9 259.1h8.6v19.5h-8.6zM632.1 259.1h8.6v19.5h-8.6zM633.4 248.2h8.6v24.9h-8.6zM634.6 253.6h8.6v24.9h-8.6zM635.8 253.6h8.6v19.5h-8.6zM637.1 253.6h8.6v19.5h-8.6zM638.3 253.6h8.6v19.5h-8.6zM639.5 253.6h8.6v19.5h-8.6zM640.8 253.6h8.6v19.5h-8.6zM642 253.6h8.6v19.5h-8.6zM643.3 253.6h8.6v19.5h-8.6zM644.5 253.6h8.6v19.5h-8.6zM645.7 253.6h8.6v19.5h-8.6zM647 253.6h8.6v19.5h-8.6zM648.2 248.2h8.6v24.9h-8.6zM649.4 248.2h8.6v24.9h-8.6zM650.7 248.2h8.6v24.9h-8.6zM651.9 248.2h8.6v24.9h-8.6zM653.2 248.2h8.6v24.9h-8.6zM654.4 248.2h8.6v24.9h-8.6zM655.6 248.2h8.6v24.9h-8.6zM656.9 248.2h8.6v24.9h-8.6zM658.1 248.2h8.6v24.9h-8.6zM659.3 248.2h8.6v24.9h-8.6zM660.6 242.8h8.6v30.4h-8.6zM661.8 248.2h8.6v19.5h-8.6zM663.1 248.2h8.6v19.5h-8.6zM664.3 248.2h8.6v19.5h-8.6zM665.5 248.2h8.6v19.5h-8.6zM666.8 248.2h8.6v19.5h-8.6zM668 242.8h8.6v24.9h-8.6zM669.2 248.2h8.6v19.5h-8.6zM670.5 248.2h8.6v24.9h-8.6zM671.7 242.8h8.6v24.9h-8.6zM673 248.2h8.6v19.5h-8.6zM674.2 248.2h8.6v19.5h-8.6zM675.4 248.2h8.6v19.5h-8.6zM676.7 248.2h8.6v19.5h-8.6zM677.9 248.2h8.6v19.5h-8.6zM679.1 237.3h8.6v30.4h-8.6zM680.4 248.2h8.6v24.9h-8.6zM681.6 242.8h8.6v24.9h-8.6zM682.9 248.2h8.6v24.9h-8.6zM684.1 248.2h8.6v24.9h-8.6zM685.3 248.2h8.6v24.9h-8.6zM686.6 248.2h8.6v24.9h-8.6zM687.8 248.2h8.6v24.9h-8.6zM689 248.2h8.6v24.9h-8.6zM690.3 248.2h8.6v24.9h-8.6zM691.5 248.2h8.6v24.9h-8.6zM692.8 253.6h8.6v19.5h-8.6zM694 248.2h8.6v19.5h-8.6zM695.2 248.2h8.6v19.5h-8.6zM193.4 1190.2h5.8v14h-5.8zM198.9 1163h2.1v30.4h-2.1zM200.7 1157.5h2.1v30.4h-2.1zM202.6 1152.1h5.4v30.4h-5.4zM207.7 1141.2h2.6v30.4h-2.6zM210 1135.7h2.1v30.4h-2.1zM211.8 1130.3h1.7v30.4h-1.7zM213.2 1124.8h2.6v30.4h-2.6zM215.5 1119.4h3.1v30.4h-3.1zM218.3 1108.5h3.1v30.4h-3.1zM221 1103.1h2.1v30.4h-2.1zM222.9 1097.6h2.1v30.4h-2.1zM700 248.2h16.4v24.9h-16.4zM716.1 242.8h2.6v30.4h-2.6zM718.5 242.8h22.2v19.5h-22.2zM740.4 242.8h11.8v24.9h-11.8zM751.9 237.3h9.5v30.4h-9.5zM761.1 237.3h14.1v24.9h-14.1zM775 237.3h17.6v19.5h-17.6zM792.3 231.9h9.5v24.9h-9.5zM801.5 237.3h8.4v19.5h-8.4zM809.6 231.9h9.5v24.9h-9.5zM818.8 237.3h45.7v19.5h-45.7zM864.2 231.9h7.9v24.9h-7.9zM871.9 231.9h1.5v30.4h-1.5zM873 237.3h8.4v24.9h-8.4zM881.1 237.3h4.9v19.5h-4.9zM885.7 237.3h9.5v24.9h-9.5zM894.9 237.3h44.1v19.5h-44.1zM938.8 231.9h10.7v30.4h-10.7zM949.1 231.9h2.6v24.9h-2.6zM951.4 237.3h11.8v19.5h-11.8zM963 231.9h14.1v24.9h-14.1zM976.8 226.4h6.1v30.4h-6.1zM982.6 226.4h3.8v30.4h-3.8zM986 231.9h7.2v24.9h-7.2zM993 231.9h6.1v19.5h-6.1zM998.7 226.4h1.6v24.9h-1.6zM1000 226.4h8.4v24.9h-8.4zM1008.1 231.9h21.1v19.5h-21.1zM1028.8 231.9h9.5v24.9h-9.5zM1038.1 231.9h11.8v19.5h-11.8zM1049.6 226.4h9.5v24.9h-9.5zM1058.8 231.9h6.1v19.5h-6.1zM1064.6 226.4h4.9v24.9h-4.9zM1069.2 226.4h10.7v30.4h-10.7zM1079.6 226.4h4.9v24.9h-4.9zM1084.2 221h7.2v30.4h-7.2zM1091.1 221h36.1v24.9h-36.1zM1126.9 226.4h16.4v19.5h-16.4zM1143 221h33.7v24.9h-33.7zM1176.5 226.4h6.1v19.5h-6.1zM1182.2 221h40.7v24.9h-40.7zM1222.6 226.4h8.4v19.5h-8.4zM1230.7 221h22.2v24.9h-22.2zM1252.6 226.4h4.9v19.5h-4.9zM1257.2 221h9.5v24.9h-9.5zM1266.4 226.4h15.3v19.5h-15.3zM1281.4 221h9.5v24.9h-9.5zM1290.7 226.4h1.5v19.5h-1.5zM1291.8 221h7.2v24.9h-7.2zM1298.7 221h11.8v30.4h-11.8zM1310.3 226.4h3.8v24.9h-3.8zM1313.7 226.4h7.2v30.4h-7.2zM1320.6 231.9h2.6v24.9h-2.6zM1323 231.9h24.5v19.5h-24.5zM1347.2 226.4h7.2v24.9h-7.2zM1354.1 226.4h9.5v30.4h-9.5zM1363.3 226.4h4.9v24.9h-4.9zM1367.9 231.9h3.8v19.5h-3.8zM1371.4 226.4h13v24.9h-13zM1384.1 221h9.5v30.4h-9.5zM1393.3 226.4h7v24.9h-7zM1400 231.9h3.4v19.5h-3.4zM1403.1 226.4h1.5v24.9h-1.5zM1404.2 226.4h8.4v30.4h-8.4zM1412.3 231.9h2.6v24.9h-2.6zM1414.6 231.9h10.7v30.4h-10.7zM1425 231.9h6.1v24.9h-6.1zM1430.7 231.9h1.5v30.4h-1.5zM1431.9 237.3h26.8v24.9h-26.8zM1458.4 237.3h2.6v19.5h-2.6zM1460.7 237.3h6.1v24.9h-6.1zM1466.5 237.3h9.1v30.4h-9.1zM1475.3 237.3h18.1v24.9h-18.1zM1493 237.3h2.6v19.5h-2.6zM1495.3 237.3h52.2v24.9h-52.2zM1547.2 237.3h7.2v19.5h-7.2zM1554.1 237.3h17.6v24.9h-17.6zM1571.4 237.3h4.9v19.5h-4.9zM1576.1 237.3h21.1v24.9h-21.1zM1596.8 237.3h2.6v19.5h-2.6zM1599.1 237.3h32.6v24.9h-32.6zM1631.4 237.3h1.5v19.5h-1.5zM1632.6 237.3h10.7v24.9h-10.7zM1643 237.3h4.9v19.5h-4.9zM1647.6 237.3h30.7v24.9h-30.7zM752.7 275.4h8.6v8.6h-8.6zM1037.3 264.2h8.6v8.6h-8.6zM1154.4 253.5h8.6v8.6h-8.6zM1201.5 259h8.6v8.6h-8.6zM1337.6 264.1h8.6v8.6h-8.6zM1361.3 264.1h8.6v8.6h-8.6z"/>
<path fill="#000000" d="M239.8 1097.6h8.6v24.9h-8.6zM241 1097.6h8.6v24.9h-8.6zM242.3 1097.6h8.6v19.5h-8.6zM243.5 1092.2h8.6v19.5h-8.6zM244.7 1092.2h8.6v19.5h-8.6zM246 1086.7h8.6v19.5h-8.6zM247.2 1086.7h8.6v19.5h-8.6zM248.4 1086.7h8.6v19.5h-8.6zM249.7 1081.3h8.6v19.5h-8.6zM250.9 1081.3h8.6v19.5h-8.6zM252.2 1081.3h8.6v19.5h-8.6zM253.4 1075.8h8.6v19.5h-8.6zM254.6 1075.8h8.6v19.5h-8.6zM255.9 1070.4h8.6v24.9h-8.6zM257.1 1064.9h8.6v24.9h-8.6zM258.3 1064.9h8.6v24.9h-8.6zM259.6 1059.5h8.6v24.9h-8.6zM260.8 1059.5h8.6v24.9h-8.6zM262.1 1059.5h8.6v24.9h-8.6zM263.3 1054.1h8.6v24.9h-8.6zM264.5 1054.1h8.6v24.9h-8.6zM265.8 1048.6h8.6v30.4h-8.6zM267 1048.6h8.6v19.5h-8.6zM268.2 1048.6h8.6v19.5h-8.6zM269.5 1043.2h8.6v19.5h-8.6zM270.7 1043.2h8.6v19.5h-8.6zM272 1037.7h8.6v24.9h-8.6zM273.2 1032.3h8.6v24.9h-8.6zM274.4 1032.3h8.6v24.9h-8.6zM275.7 1032.3h8.6v24.9h-8.6zM276.9 1026.8h8.6v24.9h-8.6zM278.1 1021.4h8.6v30.4h-8.6zM279.4 1021.4h8.6v24.9h-8.6zM280.6 1021.4h8.6v24.9h-8.6zM281.9 1015.9h8.6v24.9h-8.6zM283.1 1010.5h8.6v24.9h-8.6zM284.3 1010.5h8.6v24.9h-8.6zM285.6 1005.1h8.6v24.9h-8.6zM286.8 994.2h8.6v30.4h-8.6zM288 999.6h8.6v24.9h-8.6zM289.3 994.2h8.6v24.9h-8.6zM290.5 988.7h8.6v30.4h-8.6zM291.8 988.7h8.6v30.4h-8.6zM293 983.3h8.6v24.9h-8.6zM294.2 983.3h8.6v24.9h-8.6zM295.5 977.8h8.6v24.9h-8.6zM296.7 966.9h8.6v30.4h-8.6zM298 972.4h8.6v24.9h-8.6zM299.2 966.9h8.6v24.9h-8.6zM300.4 961.5h8.6v24.9h-8.6zM301.7 961.5h8.6v24.9h-8.6zM302.9 956h8.6v24.9h-8.6zM304.1 950.6h8.6v24.9h-8.6zM305.4 950.6h8.6v24.9h-8.6zM306.6 945.2h8.6v24.9h-8.6zM307.9 939.7h8.6v24.9h-8.6zM309.1 939.7h8.6v24.9h-8.6zM310.3 934.3h8.6v24.9h-8.6zM311.6 934.3h8.6v24.9h-8.6zM312.8 928.8h8.6v24.9h-8.6zM314 928.8h8.6v30.4h-8.6zM315.3 917.9h8.6v30.4h-8.6zM316.5 917.9h8.6v24.9h-8.6zM317.8 917.9h8.6v24.9h-8.6zM319 912.5h8.6v24.9h-8.6zM320.2 907h8.6v24.9h-8.6zM321.5 907h8.6v24.9h-8.6zM322.7 901.6h8.6v24.9h-8.6zM323.9 896.2h8.6v24.9h-8.6zM325.2 890.7h8.6v30.4h-8.6zM326.4 890.7h8.6v24.9h-8.6zM327.7 885.3h8.6v24.9h-8.6zM328.9 885.3h8.6v24.9h-8.6zM330.1 879.8h8.6v24.9h-8.6zM331.4 874.4h8.6v24.9h-8.6zM332.6 868.9h8.6v24.9h-8.6zM333.8 863.5h8.6v24.9h-8.6zM335.1 858h8.6v24.9h-8.6zM336.3 852.6h8.6v24.9h-8.6zM337.6 852.6h8.6v24.9h-8.6zM338.8 847.1h8.6v24.9h-8.6zM340 841.7h8.6v30.4h-8.6zM341.3 836.3h8.6v24.9h-8.6zM342.5 830.8h8.6v24.9h-8.6zM343.7 830.8h8.6v24.9h-8.6zM345 825.4h8.6v24.9h-8.6zM346.2 819.9h8.6v24.9h-8.6zM347.5 814.5h8.6v24.9h-8.6zM348.7 814.5h8.6v24.9h-8.6zM349.9 809h8.6v30.4h-8.6zM351.2 803.6h8.6v24.9h-8.6zM352.4 803.6h8.6v24.9h-8.6zM353.6 792.7h8.6v24.9h-8.6zM354.9 792.7h8.6v24.9h-8.6zM356.1 787.2h8.6v24.9h-8.6zM357.4 781.8h8.6v24.9h-8.6zM358.6 781.8h8.6v24.9h-8.6zM359.8 776.4h8.6v24.9h-8.6zM361.1 770.9h8.6v24.9h-8.6zM362.3 765.5h8.6v24.9h-8.6zM363.5 760h8.6v24.9h-8.6zM364.8 760h8.6v24.9h-8.6zM366 754.6h8.6v24.9h-8.6zM367.3 754.6h8.6v24.9h-8.6zM368.5 749.1h8.6v24.9h-8.6zM369.7 743.7h8.6v24.9h-8.6zM371 738.2h8.6v24.9h-8.6zM372.2 738.2h8.6v24.9h-8.6zM373.4 732.8h8.6v24.9h-8.6zM374.7 727.4h8.6v24.9h-8.6zM375.9 721.9h8.6v24.9h-8.6zM377.2 716.5h8.6v24.9h-8.6zM378.4 716.5h8.6v30.4h-8.6zM379.6 711h8.6v24.9h-8.6zM380.9 705.6h8.6v24.9h-8.6zM382.1 705.6h8.6v24.9h-8.6zM383.3 700.1h8.6v24.9h-8.6zM384.6 694.7h8.6v24.9h-8.6zM385.8 689.2h8.6v24.9h-8.6zM387.1 689.2h8.6v30.4h-8.6zM388.3 683.8h8.6v24.9h-8.6zM389.5 678.4h8.6v24.9h-8.6zM390.8 678.4h8.6v24.9h-8.6zM392 672.9h8.6v24.9h-8.6zM393.2 667.5h8.6v24.9h-8.6zM394.5 667.5h8.6v24.9h-8.6zM395.7 662h8.6v24.9h-8.6zM397 662h8.6v24.9h-8.6zM398.2 656.6h8.6v24.9h-8.6zM399.4 651.1h8.6v24.9h-8.6zM400.7 651.1h8.6v24.9h-8.6zM401.9 645.7h8.6v24.9h-8.6zM403.2 645.7h8.6v24.9h-8.6zM404.4 640.2h8.6v24.9h-8.6zM405.6 634.8h8.6v24.9h-8.6zM406.9 629.3h8.6v30.4h-8.6zM408.1 629.3h8.6v24.9h-8.6zM409.3 629.3h8.6v24.9h-8.6zM410.6 623.9h8.6v24.9h-8.6zM411.8 623.9h8.6v24.9h-8.6zM413.1 618.5h8.6v24.9h-8.6zM414.3 613h8.6v24.9h-8.6zM415.5 613h8.6v24.9h-8.6zM416.8 607.6h8.6v24.9h-8.6zM418 607.6h8.6v24.9h-8.6zM419.2 602.1h8.6v24.9h-8.6zM420.5 596.7h8.6v24.9h-8.6zM421.7 596.7h8.6v24.9h-8.6zM423 591.2h8.6v24.9h-8.6zM424.2 591.2h8.6v24.9h-8.6zM425.4 585.8h8.6v24.9h-8.6zM426.7 585.8h8.6v24.9h-8.6zM427.9 580.3h8.6v24.9h-8.6zM429.1 574.9h8.6v24.9h-8.6zM430.4 574.9h8.6v24.9h-8.6zM431.6 569.5h8.6v24.9h-8.6zM432.9 569.5h8.6v24.9h-8.6zM434.1 564h8.6v24.9h-8.6zM435.3 564h8.6v24.9h-8.6zM436.6 558.6h8.6v24.9h-8.6zM437.8 553.1h8.6v30.4h-8.6zM439 553.1h8.6v24.9h-8.6zM440.3 547.7h8.6v24.9h-8.6zM441.5 547.7h8.6v24.9h-8.6zM442.8 547.7h8.6v24.9h-8.6zM444 542.2h8.6v24.9h-8.6zM445.2 542.2h8.6v24.9h-8.6zM446.5 536.8h8.6v24.9h-8.6zM447.7 531.3h8.6v24.9h-8.6zM448.9 531.3h8.6v24.9h-8.6zM450.2 525.9h8.6v24.9h-8.6zM451.4 525.9h8.6v24.9h-8.6zM452.7 520.4h8.6v24.9h-8.6zM453.9 520.4h8.6v24.9h-8.6zM455.1 515h8.6v24.9h-8.6zM456.4 509.6h8.6v24.9h-8.6zM457.6 509.6h8.6v24.9h-8.6zM458.8 509.6h8.6v24.9h-8.6zM460.1 504.1h8.6v24.9h-8.6zM461.3 504.1h8.6v24.9h-8.6zM462.6 498.7h8.6v24.9h-8.6zM463.8 498.7h8.6v24.9h-8.6zM465 493.2h8.6v24.9h-8.6zM466.3 493.2h8.6v24.9h-8.6zM467.5 487.8h8.6v24.9h-8.6zM468.7 487.8h8.6v24.9h-8.6zM470 482.3h8.6v24.9h-8.6zM471.2 482.3h8.6v30.4h-8.6zM472.5 482.3h8.6v24.9h-8.6zM473.7 476.9h8.6v24.9h-8.6zM474.9 476.9h8.6v24.9h-8.6zM476.2 471.4h8.6v24.9h-8.6zM477.4 471.4h8.6v24.9h-8.6zM478.6 466h8.6v24.9h-8.6zM479.9 466h8.6v24.9h-8.6zM481.1 466h8.6v24.9h-8.6zM482.4 460.6h8.6v24.9h-8.6zM483.6 460.6h8.6v24.9h-8.6zM484.8 460.6h8.6v24.9h-8.6zM486.1 455.1h8.6v24.9h-8.6zM487.3 455.1h8.6v24.9h-8.6zM488.5 455.1h8.6v24.9h-8.6zM489.8 449.7h8.6v24.9h-8.6zM491 449.7h8.6v24.9h-8.6zM492.3 444.2h8.6v24.9h-8.6zM493.5 444.2h8.6v24.9h-8.6zM494.7 438.8h8.6v24.9h-8.6zM496 438.8h8.6v24.9h-8.6zM497.2 438.8h8.6v24.9h-8.6zM498.5 427.9h8.6v30.4h-8.6zM499.7 433.3h8.6v24.9h-8.6zM500.9 433.3h8.6v24.9h-8.6zM502.2 427.9h8.6v24.9h-8.6zM503.4 427.9h8.6v24.9h-8.6zM504.6 422.4h8.6v24.9h-8.6zM505.9 422.4h8.6v24.9h-8.6zM507.1 422.4h8.6v24.9h-8.6zM508.4 417h8.6v24.9h-8.6zM509.6 417h8.6v24.9h-8.6zM510.8 417h8.6v24.9h-8.6zM512.1 417h8.6v24.9h-8.6zM513.3 411.5h8.6v24.9h-8.6zM514.5 406.1h8.6v24.9h-8.6zM515.8 406.1h8.6v24.9h-8.6zM517 406.1h8.6v24.9h-8.6zM518.3 400.7h8.6v24.9h-8.6zM519.5 400.7h8.6v24.9h-8.6zM520.7 400.7h8.6v24.9h-8.6zM522 400.7h8.6v24.9h-8.6zM523.2 400.7h8.6v24.9h-8.6zM524.4 395.2h8.6v30.4h-8.6zM525.7 395.2h8.6v24.9h-8.6zM526.9 395.2h8.6v24.9h-8.6zM528.2 395.2h8.6v24.9h-8.6zM529.4 389.8h8.6v24.9h-8.6zM530.6 389.8h8.6v24.9h-8.6zM531.9 389.8h8.6v24.9h-8.6zM533.1 389.8h8.6v24.9h-8.6zM534.3 389.8h8.6v24.9h-8.6zM535.6 384.3h8.6v24.9h-8.6zM536.8 384.3h8.6v24.9h-8.6zM538.1 384.3h8.6v24.9h-8.6zM539.3 384.3h8.6v24.9h-8.6zM540.5 384.3h8.6v24.9h-8.6zM541.8 378.9h8.6v24.9h-8.6zM543 378.9h8.6v24.9h-8.6zM544.2 378.9h8.6v30.4h-8.6zM545.5 378.9h8.6v24.9h-8.6zM546.7 373.4h8.6v24.9h-8.6zM548 373.4h8.6v24.9h-8.6zM549.2 373.4h8.6v24.9h-8.6zM550.4 373.4h8.6v24.9h-8.6zM551.7 368h8.6v30.4h-8.6zM552.9 368h8.6v24.9h-8.6zM554.1 368h8.6v24.9h-8.6zM555.4 368h8.6v24.9h-8.6zM556.6 368h8.6v30.4h-8.6zM557.9 362.5h8.6v24.9h-8.6zM559.1 362.5h8.6v24.9h-8.6zM560.3 362.5h8.6v30.4h-8.6zM561.6 357.1h8.6v30.4h-8.6zM562.8 362.5h8.6v24.9h-8.6zM564 362.5h8.6v24.9h-8.6zM565.3 357.1h8.6v24.9h-8.6zM566.5 357.1h8.6v24.9h-8.6zM567.8 357.1h8.6v24.9h-8.6zM569 351.7h8.6v24.9h-8.6zM570.2 351.7h8.6v30.4h-8.6zM571.5 351.7h8.6v24.9h-8.6zM572.7 351.7h8.6v24.9h-8.6zM573.9 351.7h8.6v30.4h-8.6zM575.2 351.7h8.6v24.9h-8.6zM576.4 346.2h8.6v24.9h-8.6zM577.7 346.2h8.6v24.9h-8.6zM578.9 346.2h8.6v24.9h-8.6zM580.1 346.2h8.6v24.9h-8.6zM581.4 346.2h8.6v24.9h-8.6zM582.6 346.2h8.6v24.9h-8.6zM583.8 346.2h8.6v24.9h-8.6zM585.1 340.8h8.6v24.9h-8.6zM586.3 340.8h8.6v24.9h-8.6zM587.6 340.8h8.6v24.9h-8.6zM588.8 340.8h8.6v24.9h-8.6zM590 340.8h8.6v24.9h-8.6zM591.3 340.8h8.6v24.9h-8.6zM592.5 335.3h8.6v24.9h-8.6zM593.7 335.3h8.6v24.9h-8.6zM595 335.3h8.6v24.9h-8.6zM596.2 335.3h8.6v24.9h-8.6zM597.5 335.3h8.6v24.9h-8.6zM598.7 335.3h8.6v24.9h-8.6zM599.9 329.9h8.6v24.9h-8.6zM601.2 335.3h8.6v24.9h-8.6zM602.4 329.9h8.6v24.9h-8.6zM603.7 329.9h8.6v24.9h-8.6zM604.9 329.9h8.6v24.9h-8.6zM606.1 329.9h8.6v24.9h-8.6zM607.4 329.9h8.6v24.9h-8.6zM608.6 329.9h8.6v24.9h-8.6zM609.8 329.9h8.6v30.4h-8.6zM611.1 324.4h8.6v30.4h-8.6zM612.3 324.4h8.6v24.9h-8.6zM613.6 324.4h8.6v24.9h-8.6zM614.8 324.4h8.6v24.9h-8.6zM616 324.4h8.6v24.9h-8.6zM617.3 324.4h8.6v24.9h-8.6zM618.5 324.4h8.6v24.9h-8.6zM619.7 319h8.6v30.4h-8.6zM621 319h8.6v24.9h-8.6zM622.2 324.4h8.6v24.9h-8.6zM623.5 319h8.6v24.9h-8.6zM624.7 319h8.6v24.9h-8.6zM625.9 319h8.6v30.4h-8.6zM627.2 319h8.6v24.9h-8.6zM628.4 319h8.6v24.9h-8.6zM629.6 319h8.6v24.9h-8.6zM630.9 319h8.6v24.9h-8.6zM632.1 313.5h8.6v24.9h-8.6zM633.4 313.5h8.6v24.9h-8.6zM634.6 313.5h8.6v24.9h-8.6zM635.8 313.5h8.6v24.9h-8.6zM637.1 313.5h8.6v24.9h-8.6zM638.3 313.5h8.6v24.9h-8.6zM639.5 313.5h8.6v24.9h-8.6zM640.8 313.5h8.6v24.9h-8.6zM642 308.1h8.6v24.9h-8.6zM643.3 308.1h8.6v24.9h-8.6zM644.5 313.5h8.6v30.4h-8.6zM645.7 313.5h8.6v24.9h-8.6zM647 308.1h8.6v24.9h-8.6zM648.2 308.1h8.6v24.9h-8.6zM649.4 308.1h8.6v24.9h-8.6zM650.7 308.1h8.6v30.4h-8.6zM651.9 308.1h8.6v24.9h-8.6zM653.2 308.1h8.6v24.9h-8.6zM654.4 308.1h8.6v24.9h-8.6zM655.6 308.1h8.6v24.9h-8.6zM656.9 308.1h8.6v24.9h-8.6zM658.1 302.6h8.6v30.4h-8.6zM659.3 308.1h8.6v24.9h-8.6zM660.6 302.6h8.6v24.9h-8.6zM661.8 302.6h8.6v24.9h-8.6zM663.1 302.6h8.6v24.9h-8.6zM664.3 297.2h8.6v30.4h-8.6zM665.5 297.2h8.6v30.4h-8.6zM666.8 302.6h8.6v24.9h-8.6zM668 302.6h8.6v24.9h-8.6zM669.2 302.6h8.6v24.9h-8.6zM670.5 302.6h8.6v24.9h-8.6zM671.7 302.6h8.6v24.9h-8.6zM673 297.2h8.6v24.9h-8.6zM674.2 302.6h8.6v24.9h-8.6zM675.4 297.2h8.6v24.9h-8.6zM676.7 297.2h8.6v24.9h-8.6zM677.9 302.6h8.6v24.9h-8.6zM679.1 297.2h8.6v24.9h-8.6zM680.4 297.2h8.6v24.9h-8.6zM681.6 297.2h8.6v24.9h-8.6zM682.9 297.2h8.6v24.9h-8.6zM684.1 297.2h8.6v24.9h-8.6zM685.3 297.2h8.6v24.9h-8.6zM686.6 297.2h8.6v24.9h-8.6zM687.8 297.2h8.6v24.9h-8.6zM689 291.8h8.6v24.9h-8.6zM690.3 297.2h8.6v24.9h-8.6zM691.5 291.8h8.6v24.9h-8.6zM692.8 291.8h8.6v24.9h-8.6zM694 291.8h8.6v24.9h-8.6zM695.2 291.8h8.6v24.9h-8.6zM190.1 1168.4h10v30.4h-10zM199.8 1163h4.4v35.8h-4.4zM204 1163h2.6v30.4h-2.6zM206.3 1152.1h1.7v41.3h-1.7zM207.7 1152.1h2.6v35.8h-2.6zM210 1152.1h0.8v30.4h-0.8zM210.4 1146.6h3.1v35.8h-3.1zM213.2 1146.6h0.8v30.4h-0.8zM213.7 1141.2h3.5v35.8h-3.5zM216.9 1135.7h5.8v35.8h-5.8zM222.4 1135.7h1.2v30.4h-1.2zM223.3 1130.3h3.1v35.8h-3.1zM226.1 1124.8h3.1v30.4h-3.1zM228.9 1119.4h1.2v35.8h-1.2zM229.8 1119.4h0.8v30.4h-0.8zM230.3 1114h5.4v35.8h-5.4zM235.3 1108.5h4v35.8h-4zM239 1103.1h2.1v35.8h-2.1zM240.9 1097.6h1.2v41.3h-1.2zM241.8 1097.6h4.9v35.8h-4.9zM700 291.8h11.8v24.9h-11.8zM711.5 291.8h2.6v19.5h-2.6zM713.8 291.8h22.2v24.9h-22.2zM735.8 286.3h8.4v30.4h-8.4zM743.8 286.3h8.4v24.9h-8.4zM751.9 286.3h25.7v30.4h-25.7zM777.3 280.9h19.9v30.4h-19.9zM796.9 280.9h2.6v24.9h-2.6zM799.2 280.9h3.8v30.4h-3.8zM802.7 286.3h18.8v24.9h-18.8zM821.1 280.9h7.2v30.4h-7.2zM828 280.9h3.8v24.9h-3.8zM831.5 280.9h31.4v30.4h-31.4zM862.6 280.9h19.9v24.9h-19.9zM882.2 275.4h26.8v30.4h-26.8zM908.8 280.9h18.8v24.9h-18.8zM927.2 280.9h6.1v19.5h-6.1zM933 280.9h2.6v24.9h-2.6zM935.3 275.4h10.7v30.4h-10.7zM945.7 280.9h2.6v24.9h-2.6zM948 280.9h6.1v19.5h-6.1zM953.7 280.9h28v24.9h-28zM981.4 275.4h7.2v30.4h-7.2zM988.4 275.4h1.5v24.9h-1.5zM989.5 280.9h3.8v19.5h-3.8zM993 280.9h7.3v24.9h-7.3zM1000 280.9h2.6v24.9h-2.6zM1002.3 280.9h7.2v19.5h-7.2zM1009.2 275.4h1.5v24.9h-1.5zM1010.4 275.4h8.4v30.4h-8.4zM1018.5 280.9h1.5v24.9h-1.5zM1019.6 280.9h4.9v19.5h-4.9zM1024.2 275.4h2.6v24.9h-2.6zM1026.5 275.4h6.1v30.4h-6.1zM1032.3 280.9h4.9v24.9h-4.9zM1036.9 280.9h9.1v19.5h-9.1zM1045.7 275.4h9.5v24.9h-9.5zM1054.9 280.9h0.8v19.5h-0.8zM1055.4 280.9h8.4v24.9h-8.4zM1063.4 280.9h4.9v19.5h-4.9zM1068.1 280.9h36.1v24.9h-36.1zM1103.8 275.4h1.5v30.4h-1.5zM1105 275.4h2.6v24.9h-2.6zM1107.3 275.4h6.1v30.4h-6.1zM1113 280.9h2.6v24.9h-2.6zM1115.3 280.9h17.6v19.5h-17.6zM1132.6 280.9h44.1v24.9h-44.1zM1176.5 280.9h3.8v19.5h-3.8zM1179.9 280.9h14.1v24.9h-14.1zM1193.8 280.9h4.9v19.5h-4.9zM1198.4 275.4h7.2v30.4h-7.2zM1205.3 275.4h3.8v24.9h-3.8zM1208.8 280.9h1.5v19.5h-1.5zM1209.9 280.9h2.6v24.9h-2.6zM1212.2 275.4h16.4v30.4h-16.4zM1228.4 280.9h6.1v19.5h-6.1zM1234.1 280.9h7.2v24.9h-7.2zM1241.1 275.4h6.1v30.4h-6.1zM1246.8 275.4h6.1v24.9h-6.1zM1252.6 275.4h7.2v30.4h-7.2zM1259.5 280.9h3.8v24.9h-3.8zM1263 275.4h25.7v30.4h-25.7zM1288.4 280.9h6.1v24.9h-6.1zM1294.1 280.9h2.6v19.5h-2.6zM1296.4 280.9h14.1v24.9h-14.1zM1310.3 280.9h7.2v19.5h-7.2zM1317.2 280.9h4.9v24.9h-4.9zM1321.8 280.9h11.8v30.4h-11.8zM1333.3 280.9h4.2v24.9h-4.2zM1337.3 275.4h2.1v30.4h-2.1zM1339.1 275.4h7.7v35.8h-7.7zM1346.5 280.9h37.9v30.4h-37.9zM1384.1 286.3h6.1v24.9h-6.1zM1389.9 280.9h10.4v30.4h-10.4zM1400 280.9h10.3v30.4h-10.3zM1410 286.3h40.2v24.9h-40.2zM1449.9 286.3h22v30.4h-22zM1471.6 286.3h24.1v24.9h-24.1zM1495.3 286.3h39.5v30.4h-39.5zM1534.5 286.3h2.6v24.9h-2.6zM1536.8 286.3h13v30.4h-13zM1549.5 291.8h128.8v24.9h-128.8zM568.3 383.6h8.6v8.6h-8.6zM548.8 400.1h8.6v8.6h-8.6zM526.3 427.7h8.6v8.6h-8.6zM580 369.3h8.6v8.6h-8.6zM841 318.7h8.6v8.6h-8.6zM1049.9 318.7h8.6v8.6h-8.6zM1120.3 318.7h8.6v8.6h-8.6zM1227.1 307.9h8.6v8.6h-8.6zM1370.1 324.1h8.6v8.6h-8.6z"/>
</g>
<g fill="#000"><rect x="189.7" y="32.7" width="4.8" height="1200.8"/><rect x="180.7" y="1228.7" width="1499" height="4.8"/><rect x="167.9" y="1176.7" width="26.6" height="4.8"/><rect x="180.5" y="1124.7" width="14" height="4.8"/><rect x="167.9" y="1072.7" width="26.6" height="4.8"/><rect x="180.5" y="1020.7" width="14" height="4.8"/><rect x="167.9" y="968.7" width="26.6" height="4.8"/><rect x="180.5" y="916.7" width="14" height="4.8"/><rect x="167.9" y="864.7" width="26.6" height="4.8"/><rect x="180.5" y="812.7" width="14" height="4.8"/><rect x="167.9" y="760.7" width="26.6" height="4.8"/><rect x="180.5" y="708.7" width="14" height="4.8"/><rect x="167.9" y="656.7" width="26.6" height="4.8"/><rect x="180.5" y="604.7" width="14" height="4.8"/><rect x="167.9" y="552.7" width="26.6" height="4.8"/><rect x="180.5" y="500.7" width="14" height="4.8"/><rect x="167.9" y="448.7" width="26.6" height="4.8"/><rect x="180.5" y="396.7" width="14" height="4.8"/><rect x="167.9" y="344.7" width="26.6" height="4.8"/><rect x="180.5" y="292.7" width="14" height="4.8"/><rect x="167.9" y="240.7" width="26.6" height="4.8"/><rect x="180.5" y="188.7" width="14" height="4.8"/><rect x="167.9" y="136.7" width="26.6" height="4.8"/><rect x="180.5" y="84.7" width="14" height="4.8"/><rect x="167.9" y="32.7" width="26.6" height="4.8"/><rect x="189.7" y="1228.7" width="4.8" height="25"/><rect x="264" y="1228.7" width="4.8" height="14"/><rect x="338.2" y="1228.7" width="4.8" height="25"/><rect x="412.5" y="1228.7" width="4.8" height="14"/><rect x="486.7" y="1228.7" width="4.8" height="25"/><rect x="561" y="1228.7" width="4.8" height="14"/><rect x="635.3" y="1228.7" width="4.8" height="25"/><rect x="709.5" y="1228.7" width="4.8" height="14"/><rect x="783.8" y="1228.7" width="4.8" height="25"/><rect x="858" y="1228.7" width="4.8" height="14"/><rect x="932.3" y="1228.7" width="4.8" height="25"/><rect x="1006.5" y="1228.7" width="4.8" height="14"/><rect x="1080.8" y="1228.7" width="4.8" height="25"/><rect x="1155.1" y="1228.7" width="4.8" height="14"/><rect x="1229.3" y="1228.7" width="4.8" height="25"/><rect x="1303.6" y="1228.7" width="4.8" height="14"/><rect x="1377.8" y="1228.7" width="4.8" height="25"/><rect x="1452.1" y="1228.7" width="4.8" height="14"/><rect x="1526.4" y="1228.7" width="4.8" height="25"/><rect x="1600.6" y="1228.7" width="4.8" height="14"/><rect x="1674.9" y="1228.7" width="4.8" height="25"/></g>
<g font-size="50.5" fill="#000"><text transform="translate(151.6 1194.7) scale(1 1.04)" text-anchor="end">0</text><text transform="translate(151.6 1090.7) scale(1 1.04)" text-anchor="end">10</text><text transform="translate(151.6 986.7) scale(1 1.04)" text-anchor="end">20</text><text transform="translate(151.6 882.7) scale(1 1.04)" text-anchor="end">30</text><text transform="translate(151.6 778.7) scale(1 1.04)" text-anchor="end">40</text><text transform="translate(151.6 674.7) scale(1 1.04)" text-anchor="end">50</text><text transform="translate(151.6 570.7) scale(1 1.04)" text-anchor="end">60</text><text transform="translate(151.6 466.7) scale(1 1.04)" text-anchor="end">70</text><text transform="translate(151.6 362.7) scale(1 1.04)" text-anchor="end">80</text><text transform="translate(151.6 258.7) scale(1 1.04)" text-anchor="end">90</text><text transform="translate(151.6 154.7) scale(1 1.04)" text-anchor="end">100</text><text transform="translate(151.6 50.7) scale(1 1.04)" text-anchor="end">110</text><text transform="translate(191.8 1310.3) scale(1 1.04)" text-anchor="middle">0</text><text transform="translate(340.3 1310.3) scale(1 1.04)" text-anchor="middle">60</text><text transform="translate(488.8 1310.3) scale(1 1.04)" text-anchor="middle">120</text><text transform="translate(637.4 1310.3) scale(1 1.04)" text-anchor="middle">180</text><text transform="translate(785.9 1310.3) scale(1 1.04)" text-anchor="middle">240</text><text transform="translate(934.4 1310.3) scale(1 1.04)" text-anchor="middle">300</text><text transform="translate(1082.9 1310.3) scale(1 1.04)" text-anchor="middle">360</text><text transform="translate(1231.4 1310.3) scale(1 1.04)" text-anchor="middle">420</text><text transform="translate(1379.9 1310.3) scale(1 1.04)" text-anchor="middle">480</text><text transform="translate(1528.5 1310.3) scale(1 1.04)" text-anchor="middle">540</text><text transform="translate(1677 1310.3) scale(1 1.04)" text-anchor="middle">600</text></g>
<g font-size="62.5"><text transform="translate(560.3 794.2) scale(1 1.04)" fill="#ff0000" letter-spacing="-0.1">[Cu<tspan font-size="43" dy="15.9">2</tspan><tspan dy="-15.9">(L-RCOOH)(H</tspan><tspan font-size="43" dy="15.9">2</tspan><tspan dy="-15.9">O)</tspan><tspan font-size="43" dy="15.9">2</tspan><tspan dy="-15.9">](ClO</tspan><tspan font-size="43" dy="15.9">4</tspan><tspan dy="-15.9">)</tspan><tspan font-size="43" dy="15.9">3</tspan></text><text transform="translate(1438.6 794.2) scale(1 1.04)" fill="#ff0000">s = 0.13</text><text transform="translate(560.3 883.8) scale(1 1.04)" fill="#000000" letter-spacing="-0.1">[Cu<tspan font-size="43" dy="15.9">2</tspan><tspan dy="-15.9">(L-CH</tspan><tspan font-size="43" dy="15.9">3</tspan><tspan dy="-15.9">)(H</tspan><tspan font-size="43" dy="15.9">2</tspan><tspan dy="-15.9">O)</tspan><tspan font-size="43" dy="15.9">2</tspan><tspan dy="-15.9">](ClO</tspan><tspan font-size="43" dy="15.9">4</tspan><tspan dy="-15.9">)</tspan><tspan font-size="43" dy="15.9">3</tspan></text><text transform="translate(1438.6 883.8) scale(1 1.04)" fill="#000000">s = 0.37</text><text transform="translate(560.3 974.1) scale(1 1.04)" fill="#0000ff" letter-spacing="-0.1">[Cu<tspan font-size="43" dy="15.9">2</tspan><tspan dy="-15.9">(L-RNH</tspan><tspan font-size="43" dy="15.9">2</tspan><tspan dy="-15.9">)(H</tspan><tspan font-size="43" dy="15.9">2</tspan><tspan dy="-15.9">O)</tspan><tspan font-size="43" dy="15.9">2</tspan><tspan dy="-15.9">](ClO</tspan><tspan font-size="43" dy="15.9">4</tspan><tspan dy="-15.9">)</tspan><tspan font-size="43" dy="15.9">3</tspan></text><text transform="translate(1438.6 974.1) scale(1 1.04)" fill="#0000ff">s = 0.58</text></g>
<text x="934.0" y="1404.2" font-size="62.5" text-anchor="middle" fill="#000">t / min</text><text transform="translate(55.9 632.7) rotate(-90)" font-size="62.5" text-anchor="middle" fill="#000" letter-spacing="-0.15">n(O<tspan font-size="43" dy="15.9">2</tspan><tspan dy="-15.9">) / µmol</tspan></text>
</g>
</svg>
</body>
</html>
